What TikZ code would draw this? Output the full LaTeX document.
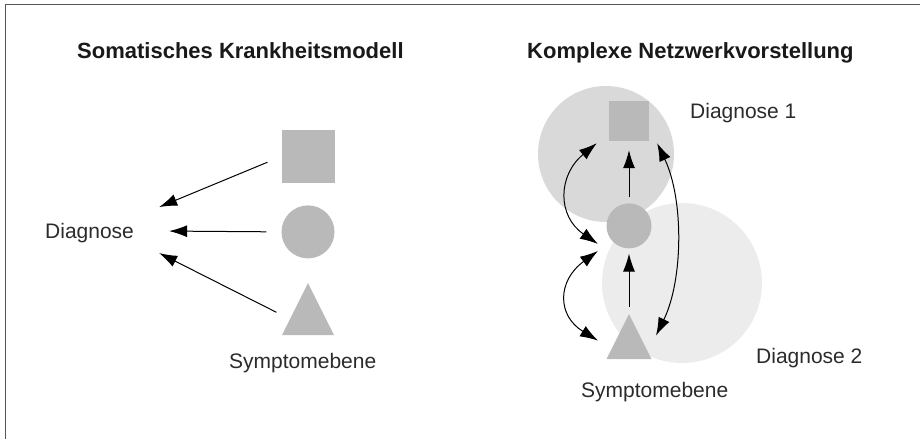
\documentclass[tikz,border=0pt]{standalone}
\usepackage{fontspec}
\setmainfont{Liberation Sans}
\usetikzlibrary{shapes.geometric, arrows.meta, positioning, calc}
\definecolor{ShapeGray}{HTML}{B9B9B9}
\definecolor{HaloDark}{HTML}{D9D9D9}
\definecolor{HaloLight}{HTML}{EBECEB}
\definecolor{FrameGray}{HTML}{555555}
\definecolor{DarkText}{HTML}{2B2B2B}

\tikzset{
  sym/.style={fill=ShapeGray, draw=none, inner sep=0pt},
  symsquare/.style={sym, rectangle, minimum size=#1},
  symcircle/.style={sym, circle, minimum size=#1},
  symtri/.style={sym, isosceles triangle, isosceles triangle stretches,
                 shape border rotate=90, minimum width=#1, minimum height=#1},
  halo/.style={circle, draw=none, fill=#1, inner sep=0pt},
  arr/.style={line width=1pt, -{Latex[length=18pt,width=12pt]}},
  darr/.style={line width=1pt, {Latex[length=18pt,width=12pt]}-{Latex[length=18pt,width=12pt]}},
  lbl/.style={font=\fontsize{21}{24}\selectfont, text=DarkText, inner sep=0pt, anchor=base west},
  ttl/.style={font=\fontsize{22}{26}\selectfont\bfseries, text=black!90, inner sep=0pt, anchor=base west},
}

\begin{document}
\begin{tikzpicture}[x=1pt, y=-1pt]
  \useasboundingbox (0,0) rectangle (920,439);
  \draw[FrameGray, line width=1.2pt] (920,4.5) -- (5.5,4.5) -- (5.5,439);

  % titles
  \node[ttl] (ttlleft) at (77,58) {Somatisches Krankheitsmodell};
  \node[ttl] (ttlright) at (527,58) {Komplexe Netzwerkvorstellung};

  % left: somatic model
  \node[symsquare=53pt] (lsq) at (308,156.5) {};
  \node[symcircle=53pt, below=22pt of lsq] (lci) {};
  \node[symtri=52pt, below=24pt of lci] (ltri) {};
  \node[lbl] (diag) at (45,238) {Diagnose};
  \node[lbl] (lsymp) at (229,368) {Symptomebene};

  \draw[arr, shorten <=15pt] (lsq.west) -- ($(diag.east)+(25,-25.5)$);
  \draw[arr, shorten <=15pt] (lci.west) -- ($(diag.east)+(35,-1.5)$);
  \draw[arr, shorten <=15pt] (ltri.west) -- ($(diag.east)+(25,20.5)$);

  % right: network
  \node[halo=HaloDark] (halo1) at (606,154) [minimum size=136pt] {};
  \node[halo=HaloLight] (halo2) at (682,283) [minimum size=160pt] {};
  \node[symsquare=40pt] (rsq) at (629,121) {};
  \node[symcircle=45pt, below=62pt of rsq] (rci) {};
  \node[symtri=45pt, below=65pt of rci] (rtri) {};
  \node[lbl] (diag1) at (690,118) {Diagnose 1};
  \node[lbl] (diag2) at (756,363) {Diagnose 2};
  \node[lbl] (rsymp) at (581,397) {Symptomebene};

  \draw[arr, shorten <=6pt, shorten >=9pt] (rci.north) -- (rsq.south);
  \draw[arr, shorten <=7pt, shorten >=5pt] (rtri.apex) -- (rci.south);
  \draw[darr] ($(rsq.south west)+(-12,2)$) .. controls +(-39,32) and +(-41,-28) .. ($(rci.south west)+(-15,2)$);
  \draw[darr] ($(rci.south west)+(-15,9)$) .. controls +(-41,30) and +(-41,-25) .. ($(rtri.apex)+(-31,27)$);
  \draw[darr] ($(rsq.south east)+(8,2)$) .. controls +(27,57) and +(27,-55) .. ($(rtri.apex)+(27,22)$);
\end{tikzpicture}
\end{document}
